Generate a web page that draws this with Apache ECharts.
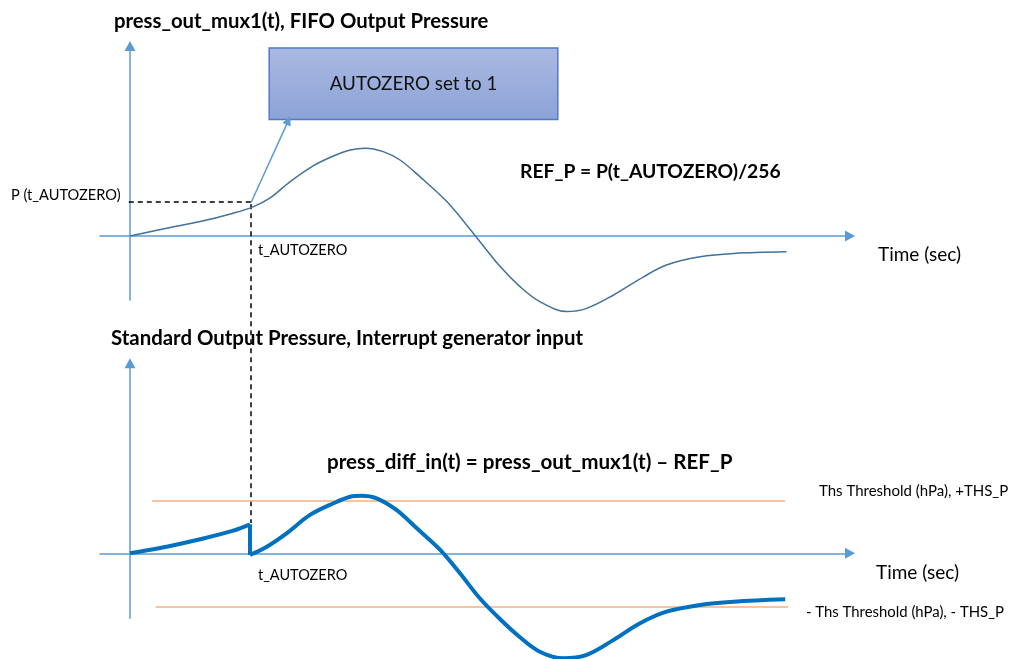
<!DOCTYPE html>
<html>
<head>
<meta charset="utf-8">
<script src="https://cdn.jsdelivr.net/npm/echarts@6/dist/echarts.min.js"></script>
<style>html,body{margin:0;padding:0;background:#fff;}#c{width:1011px;height:659px;}</style>
</head>
<body>
<div id="c"></div>
<script>
// time in arbitrary units, pressure in arbitrary units
var tAutozero = 2.02;
var pAutozero = 1.69;
var thsP = 2.65;

// top: press_out_mux1(t)
var fifoT = [0, 0.61, 1.17, 1.72, 2.06, 2.33, 2.67, 3.06, 3.39, 3.67, 3.92, 4.22, 4.5, 4.83, 5.28, 5.72, 6.17, 6.5, 6.83, 7.28, 7.61, 8.06, 8.56, 8.94, 9.5, 10.06, 10.94];
var fifoP = [0, 0.39, 0.72, 1.14, 1.47, 1.89, 2.72, 3.52, 4.0, 4.3, 4.39, 4.22, 3.8, 2.97, 1.72, 0.14, -1.53, -2.53, -3.28, -3.78, -3.62, -2.95, -2.04, -1.45, -1.04, -0.87, -0.79];

// bottom: press_diff_in(t), before and after autozero
var diffPreT = [0, 0.61, 1.17, 1.72, 2.0];
var diffPreP = [0, 0.33, 0.7, 1.13, 1.45];
var diffPostT = [2.0, 2.28, 2.61, 3.0, 3.39, 3.67, 3.86, 4.11, 4.44, 4.78, 5.17, 5.5, 5.83, 6.17, 6.5, 6.83, 7.22, 7.61, 8.06, 8.5, 8.94, 9.5, 10.06, 10.92];
var diffPostP = [-0.08, 0.33, 1.0, 1.92, 2.5, 2.83, 2.88, 2.75, 2.17, 1.25, 0.17, -1.0, -2.25, -3.3, -4.2, -4.92, -5.25, -5.08, -4.33, -3.5, -2.92, -2.58, -2.42, -2.3];

function zip(a, b) { return a.map(function (v, i) { return [v, b[i]]; }); }

var chart = echarts.init(document.getElementById('c'), null, {renderer: 'canvas'});
var axisBlue = '#5b9bd5';
var FONT = 'Lato, "Open Sans", sans-serif';

function xAx(g) {
  return {type: 'value', gridIndex: g, min: -0.5, max: 12,
    axisLine: {show: true, onZero: true, symbol: ['none', 'triangle'], symbolSize: [11, 10], lineStyle: {color: axisBlue, width: 1.5}},
    axisTick: {show: false}, axisLabel: {show: false}, splitLine: {show: false}};
}
function yAx(g, mn, mx) {
  return {type: 'value', gridIndex: g, min: mn, max: mx,
    axisLine: {show: true, onZero: true, symbol: ['none', 'triangle'], symbolSize: [11, 10], lineStyle: {color: axisBlue, width: 1.5}},
    axisTick: {show: false}, axisLabel: {show: false}, splitLine: {show: false}};
}

var txt = function (t, x, y, size, bold) {
  return {type: 'text', x: x, y: y, style: {text: t, fill: '#000', font: (bold ? 'bold ' : '') + size + 'px ' + FONT, verticalAlign: 'middle'}};
};

chart.setOption({
  animation: false,
  grid: [
    {left: 100, width: 750, top: 46, height: 254},
    {left: 100, width: 750, top: 363.3, height: 255}
  ],
  xAxis: [xAx(0), xAx(1)],
  yAxis: [yAx(0, -3.2, 9.5), yAx(1, -3.25, 9.5)],
  series: [
    {type: 'line', xAxisIndex: 0, yAxisIndex: 0, data: zip(fifoT, fifoP), smooth: 0.35, symbol: 'none', clip: false,
      lineStyle: {color: '#41719c', width: 1.5},
      markArea: {silent: true,
        itemStyle: {color: new echarts.graphic.LinearGradient(0, 0, 0, 1, [{offset: 0, color: '#abb9e2'}, {offset: 1, color: '#8ca3d7'}]), borderColor: '#4f7ac7', borderWidth: 1.5},
        label: {show: true, position: 'inside', color: '#111', fontSize: 18.8, fontFamily: FONT},
        data: [[{name: 'AUTOZERO set to 1', coord: [2.32, 9.4]}, {coord: [7.13, 5.83]}]]}
    },
    {type: 'lines', coordinateSystem: 'cartesian2d', xAxisIndex: 0, yAxisIndex: 0, clip: false,
      symbol: ['none', 'triangle'], symbolSize: 9,
      lineStyle: {color: axisBlue, width: 1.5, opacity: 1},
      data: [{coords: [[tAutozero, pAutozero], [2.64, 5.77]]}]},
    {type: 'lines', coordinateSystem: 'cartesian2d', xAxisIndex: 0, yAxisIndex: 0, clip: false,
      lineStyle: {color: '#000', width: 1.5, type: [5, 4], opacity: 1},
      data: [{coords: [[-0.02, pAutozero], [tAutozero, pAutozero]]}, {coords: [[tAutozero, pAutozero - 0.1], [tAutozero, -14.35]]}]},
    {type: 'lines', coordinateSystem: 'cartesian2d', xAxisIndex: 1, yAxisIndex: 1, clip: false,
      lineStyle: {color: '#f4b183', width: 1.5, opacity: 1},
      data: [{coords: [[0.37, thsP], [10.92, thsP]]}, {coords: [[0.43, -thsP], [10.97, -thsP]]}]},
    {type: 'line', xAxisIndex: 1, yAxisIndex: 1, data: zip(diffPreT, diffPreP), smooth: 0.3, symbol: 'none', clip: false,
      lineStyle: {color: '#0070c0', width: 4}},
    {type: 'line', xAxisIndex: 1, yAxisIndex: 1, data: [[diffPreT[diffPreT.length - 1], diffPreP[diffPreP.length - 1]], [diffPostT[0], diffPostP[0]]], symbol: 'none', clip: false,
      lineStyle: {color: '#0070c0', width: 4}},
    {type: 'line', xAxisIndex: 1, yAxisIndex: 1, data: zip(diffPostT, diffPostP), smooth: 0.35, symbol: 'none', clip: false,
      lineStyle: {color: '#0070c0', width: 4}}
  ],
  graphic: [
    txt('press_out_mux1(t), FIFO Output Pressure', 114, 21, 20.3, true),
    txt('REF_P = P(t_AUTOZERO)/256', 520, 172, 19.3, true),
    txt('P (t_AUTOZERO)', 11, 195, 14.6, false),
    txt('t_AUTOZERO', 258, 250, 14.5, false),
    txt('Time (sec)', 878, 255, 19, false),
    txt('Standard Output Pressure, Interrupt generator input', 111, 338, 20.4, true),
    txt('press_diff_in(t) = press_out_mux1(t) \u2013 REF_P', 327, 462, 20.6, true),
    txt('t_AUTOZERO', 258, 575, 14.5, false),
    txt('Time (sec)', 876, 573, 19, false),
    txt('Ths Threshold (hPa), +THS_P', 819, 491, 15, false),
    txt('- Ths Threshold (hPa), - THS_P', 806, 612, 14.9, false)
  ]
});
</script>
</body>
</html>
